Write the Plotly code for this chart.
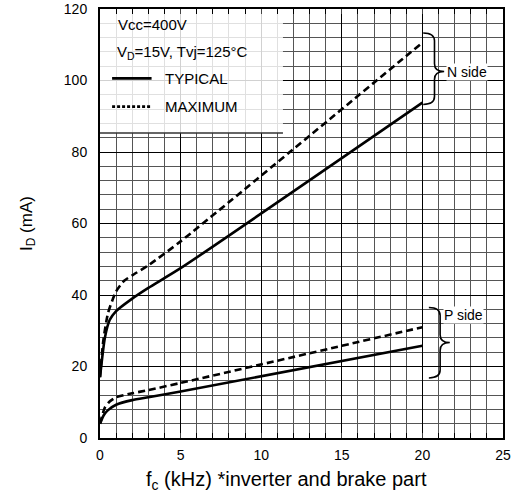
import plotly.graph_objects as go

# Data
n_typ_x = [0, 0.3, 0.6, 1, 2, 3, 5, 20]
n_typ_y = [17, 28, 33, 35.5, 39, 42, 47.5, 93.8]
n_max_x = [0, 0.2, 0.5, 1, 1.5, 2, 3, 5, 20]
n_max_y = [17, 27, 35, 41, 44, 45.5, 48.3, 55, 110.6]
p_typ_x = [0, 0.25, 0.5, 1, 2, 3, 5, 20]
p_typ_y = [4, 6.5, 7.8, 9.3, 10.6, 11.4, 13, 25.8]
p_max_x = [0, 0.3, 0.6, 1, 2, 3, 5, 20]
p_max_y = [4, 8.5, 10.2, 11.4, 12.5, 13.4, 15.4, 31]

x_ticks = [0, 5, 10, 15, 20, 25]
y_ticks = [0, 20, 40, 60, 80, 100, 120]

FONT = "Liberation Sans, Arial, sans-serif"

fig = go.Figure()
solid = dict(color="black", width=2.6)
dashed = dict(color="black", width=2.6, dash="7px,4px")
fig.add_trace(go.Scatter(x=n_typ_x, y=n_typ_y, mode="lines", line=dict(**solid, shape="spline", smoothing=0.6), showlegend=False))
fig.add_trace(go.Scatter(x=n_max_x, y=n_max_y, mode="lines", line=dict(**dashed, shape="spline", smoothing=0.6), showlegend=False))
fig.add_trace(go.Scatter(x=p_typ_x, y=p_typ_y, mode="lines", line=dict(**solid, shape="spline", smoothing=0.6), showlegend=False))
fig.add_trace(go.Scatter(x=p_max_x, y=p_max_y, mode="lines", line=dict(**dashed, shape="spline", smoothing=0.6), showlegend=False))

shapes = []
# legend box
shapes.append(dict(type="rect", xref="x", yref="y", x0=0, x1=11.35, y0=85.3, y1=120,
                   fillcolor="rgba(255,255,255,0.82)", line=dict(width=0), layer="between"))
shapes.append(dict(type="line", xref="x", yref="y", x0=0, x1=11.35, y0=85.3, y1=85.3,
                   line=dict(color="#333", width=1.5), layer="between"))
# legend samples
shapes.append(dict(type="line", xref="x", yref="y", x0=0.75, x1=3.2, y0=100.6, y1=100.6,
                   line=dict(color="black", width=2.6)))
shapes.append(dict(type="line", xref="x", yref="y", x0=0.75, x1=3.2, y0=92.7, y1=92.7,
                   line=dict(color="black", width=2.6, dash="3px,2px")))


def brace(x0, x1, xt, ytop, ybot, ymid, r):
    return (f"M {x0},{ytop} Q {x1},{ytop} {x1},{ytop - r} "
            f"L {x1},{ymid + r} Q {x1},{ymid} {xt},{ymid} "
            f"Q {x1},{ymid} {x1},{ymid - r} "
            f"L {x1},{ybot + r} Q {x1},{ybot} {x0},{ybot}")


shapes.append(dict(type="path", xref="x", yref="y",
                   path=brace(20.05, 20.75, 21.35, 113.3, 93.3, 102.5, 2.2),
                   line=dict(color="black", width=1.6)))
shapes.append(dict(type="path", xref="x", yref="y",
                   path=brace(20.4, 21.1, 21.7, 36.5, 16.8, 26.7, 2.2),
                   line=dict(color="black", width=1.6)))

annotations = [
    dict(x=1.0, y=115.7, xref="x", yref="y", text="Vcc=400V", showarrow=False, xanchor="left", yanchor="middle",
         font=dict(size=15, family=FONT, color="black")),
    dict(x=0.9, y=107.9, xref="x", yref="y", text="V<sub>D</sub>=15V, Tvj=125°C", showarrow=False, xanchor="left",
         yanchor="middle", font=dict(size=15, family=FONT, color="black")),
    dict(x=3.9, y=100.6, xref="x", yref="y", text="TYPICAL", showarrow=False, xanchor="left", yanchor="middle",
         font=dict(size=15, family=FONT, color="black")),
    dict(x=3.9, y=92.7, xref="x", yref="y", text="MAXIMUM", showarrow=False, xanchor="left", yanchor="middle",
         font=dict(size=15, family=FONT, color="black")),
    dict(x=21.45, y=102.5, xref="x", yref="y", text="N side", showarrow=False, xanchor="left", yanchor="middle",
         font=dict(size=14, family=FONT, color="black"), bgcolor="white", borderpad=0),
    dict(x=21.3, y=34.3, xref="x", yref="y", text="P side", showarrow=False, xanchor="left", yanchor="middle",
         font=dict(size=14, family=FONT, color="black"), bgcolor="white", borderpad=0),
    # x axis title, placed slightly left of the plot centre as in the reference
    dict(x=0.462, y=-0.098, xref="paper", yref="paper", text="f<sub>c</sub> (kHz) *inverter and brake part",
         showarrow=False, xanchor="center", yanchor="middle", font=dict(size=20, family=FONT, color="black")),
]

fig.update_layout(
    width=517, height=495,
    margin=dict(l=100, r=14, t=9, b=57, autoexpand=False),
    paper_bgcolor="white", plot_bgcolor="white",
    font=dict(family=FONT, color="black", size=13),
    shapes=shapes, annotations=annotations,
    showlegend=False,
)
fig.update_xaxes(
    range=[0, 25], tickvals=x_ticks, ticktext=[str(v) for v in x_ticks],
    showgrid=True, gridcolor="black", gridwidth=1.3,
    minor=dict(dtick=1, tick0=0, showgrid=True, gridcolor="#555", gridwidth=1, ticks="inside", ticklen=5, tickcolor="black"),
    showline=True, linecolor="black", linewidth=2, mirror="allticks", ticks="inside", ticklen=5,
    zeroline=False, tickfont=dict(size=14), automargin=False, ticklabelstandoff=3,
)
fig.update_yaxes(
    range=[0, 120], tickvals=y_ticks, ticktext=[str(v) for v in y_ticks],
    showgrid=True, gridcolor="black", gridwidth=1.3,
    minor=dict(dtick=4, tick0=0, showgrid=True, gridcolor="#555", gridwidth=1),
    showline=True, linecolor="black", linewidth=2, mirror=True, ticks="",
    zeroline=False, tickfont=dict(size=14), ticklabelstandoff=8, automargin=False,
    title=dict(text="I<sub>D</sub> (mA)", font=dict(size=17), standoff=27),
)

fig.write_html("out.html", config={"displayModeBar": False},
               post_script="document.body.style.margin='0';document.body.style.overflow='hidden';")
